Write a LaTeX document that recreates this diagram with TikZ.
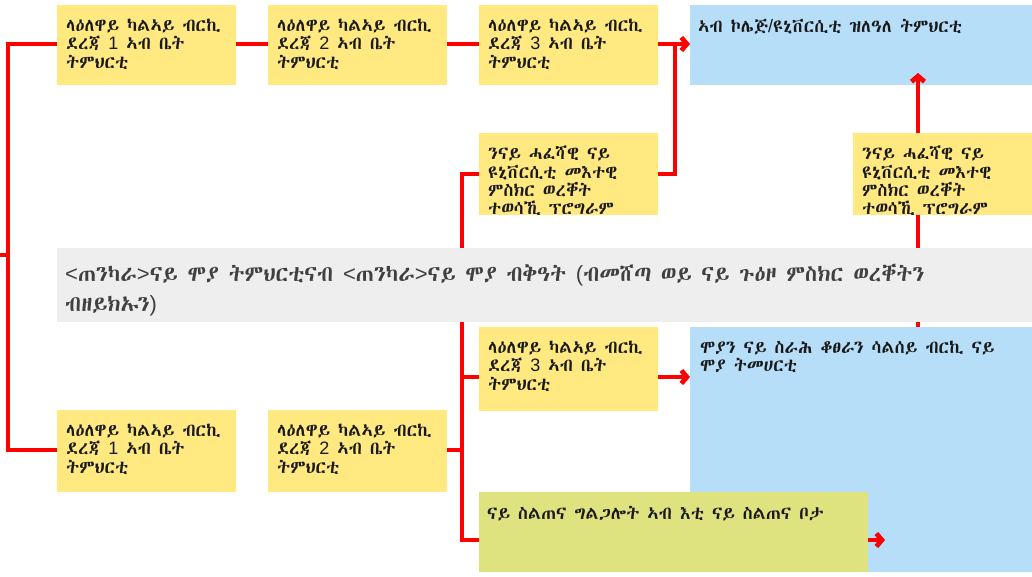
\documentclass[tikz,border=0pt]{standalone}
\usepackage{fontspec}
\usetikzlibrary{arrows.meta}
\setmainfont{Liberation Sans}
\newfontfamily\latf{Liberation Sans}
\IfFontExistsTF{Abyssinica SIL}{\newfontfamily\eth{Abyssinica SIL}}{%
 \IfFontExistsTF{FreeSans}{\newfontfamily\eth{FreeSans}}{%
  \IfFontExistsTF{FreeSerif}{\newfontfamily\eth{FreeSerif}}{%
   \IfFontExistsTF{Unifont}{\newfontfamily\eth{Unifont}}{%
    \newfontfamily\eth{DejaVu Sans}}}}}
\newcommand\ltn[1]{{\latf #1}}
\definecolor{ycol}{RGB}{255,233,128}
\definecolor{bcol}{RGB}{182,222,248}
\definecolor{gcol}{RGB}{238,238,238}
\definecolor{grn}{RGB}{222,227,128}
\definecolor{lred}{RGB}{255,0,0}
\tikzset{
  boxbase/.style={anchor=north west, inner sep=0pt, draw=none},
  ybox/.style={boxbase, fill=ycol},
  bbox/.style={boxbase, fill=bcol},
  gbox/.style={boxbase, fill=gcol},
  grbox/.style={boxbase, fill=grn},
  txt/.style={anchor=north west, inner sep=0pt, align=left, text=black!90,
    font=\eth\fontsize{18}{18.3}\selectfont},
  bigtxt/.style={txt, text=black!75, font=\eth\fontsize{22}{30}\selectfont},
  conn/.style={draw=lred, line width=4.8pt},
  arr/.style={conn, -{Straight Barb[length=5.5pt,width=13pt]}},
}
\begin{document}
\begin{tikzpicture}[x=1pt,y=-1pt]
\useasboundingbox (0,0) rectangle (1032,576);
% blue boxes first
\node[bbox, minimum width=342pt, minimum height=80pt] (tb) at (690,5) {};
\node[bbox, minimum width=342pt, minimum height=245pt] (bb) at (690,327) {};
% reference coordinates
\coordinate (j0) at (8,255);
\coordinate (s0) at (0,255);
\coordinate (j1) at (675,0);
\coordinate (j2) at (462,0);
\coordinate (j4) at (918,0);
\coordinate (a4) at (918,73);
\coordinate (r3) at (0,377);
\coordinate (r5) at (0,540);
\coordinate (e5) at (885,540);
% other boxes (positions needed for connectors)
\path
 (57,5) node[ybox, minimum width=179pt, minimum height=80pt] (t1) {}
 (268,5) node[ybox, minimum width=179pt, minimum height=80pt] (t2) {}
 (479,5) node[ybox, minimum width=179pt, minimum height=80pt] (t3) {}
 (479,133) node[ybox, minimum width=179pt, minimum height=82pt] (m1) {}
 (853,133) node[ybox, minimum width=179pt, minimum height=82pt] (m2) {}
 (57,248) node[gbox, minimum width=975pt, minimum height=74pt] (g) {}
 (479,327) node[ybox, minimum width=179pt, minimum height=84pt] (b3) {}
 (57,410) node[ybox, minimum width=179pt, minimum height=82pt] (b1) {}
 (268,410) node[ybox, minimum width=179pt, minimum height=82pt] (b2) {}
 (479,492) node[grbox, minimum width=389pt, minimum height=80pt] (gr) {};
% connectors
\draw[conn] (t1.west |- 0,44) -| (j0) |- (b1.west |- 0,450);
\draw[conn] (j0) -- (s0);
\draw[conn] (t1.east |- 0,44) -- (t2.west |- 0,44);
\draw[conn] (t2.east |- 0,44) -- (t3.west |- 0,44);
\draw[arr] (t3.east |- 0,44) -- (tb.west |- 0,44);
\draw[conn] (m1.east |- 0,174) -| (j1 |- 0,44);
\draw[conn] (m1.west |- 0,174) -| (g.north -| j2);
\draw[conn] (g.south -| j2) |- (gr.west |- r5);
\draw[conn] (j2 |- r3) -- (b3.west |- r3);
\draw[conn] (b2.east |- 0,450) -- (j2 |- 0,450);
\draw[arr] (b3.east |- r3) -- (bb.west |- r3);
\draw[arr] (gr.east |- r5) -- (e5);
\draw[arr] (bb.north -| j4) -- (a4);
% boxes on top of connectors
\path
 (57,5) node[ybox, minimum width=179pt, minimum height=80pt] {}
 (268,5) node[ybox, minimum width=179pt, minimum height=80pt] {}
 (479,5) node[ybox, minimum width=179pt, minimum height=80pt] {}
 (479,133) node[ybox, minimum width=179pt, minimum height=82pt] {}
 (853,133) node[ybox, minimum width=179pt, minimum height=82pt] {}
 (57,248) node[gbox, minimum width=975pt, minimum height=74pt] {}
 (479,327) node[ybox, minimum width=179pt, minimum height=84pt] {}
 (57,410) node[ybox, minimum width=179pt, minimum height=82pt] {}
 (268,410) node[ybox, minimum width=179pt, minimum height=82pt] {}
 (479,492) node[grbox, minimum width=389pt, minimum height=80pt] {};
% texts
\node[txt] (t1x) at ([shift={(9,14)}]t1.north west) {ላዕለዋይ ካልኣይ ብርኪ\\ደረጃ \ltn{1} ኣብ ቤት\\ትምህርቲ};
\node[txt] (t2x) at ([shift={(9,14)}]t2.north west) {ላዕለዋይ ካልኣይ ብርኪ\\ደረጃ \ltn{2} ኣብ ቤት\\ትምህርቲ};
\node[txt] (t3x) at ([shift={(9,14)}]t3.north west) {ላዕለዋይ ካልኣይ ብርኪ\\ደረጃ \ltn{3} ኣብ ቤት\\ትምህርቲ};
\node[txt] (tbx) at ([shift={(8,14)}]tb.north west) {ኣብ ኮሌጅ\ltn{/}ዩኒቨርሲቲ ዝለዓለ ትምህርቲ};
\begin{scope}
\clip (m1.north west) rectangle (m1.south east);
\node[txt] (m1x) at ([shift={(9,13)}]m1.north west) {ንናይ ሓፈሻዊ ናይ\\ዩኒቨርሲቲ መእተዊ\\ምስክር ወረቐት\\ተወሳኺ ፕሮግራም};
\end{scope}
\begin{scope}
\clip (m2.north west) rectangle (m2.south east);
\node[txt] (m2x) at ([shift={(9,13)}]m2.north west) {ንናይ ሓፈሻዊ ናይ\\ዩኒቨርሲቲ መእተዊ\\ምስክር ወረቐት\\ተወሳኺ ፕሮግራም};
\end{scope}
\node[bigtxt] (gx) at ([shift={(8,16)}]g.north west) {\ltn{<}ጠንካራ\ltn{>}ናይ ሞያ ትምህርቲናብ \ltn{<}ጠንካራ\ltn{>}ናይ ሞያ ብቅዓት \ltn{(}ብመሸጣ ወይ ናይ ጉዕዞ ምስክር ወረቐትን\\ብዘይክኡን\ltn{)}};
\node[txt] (b3x) at ([shift={(9,14)}]b3.north west) {ላዕለዋይ ካልኣይ ብርኪ\\ደረጃ \ltn{3} ኣብ ቤት\\ትምህርቲ};
\node[txt] (bbx) at ([shift={(10,14)}]bb.north west) {ሞያን ናይ ስራሕ ቆፀራን ሳልሰይ ብርኪ ናይ\\ሞያ ትመሀርቲ};
\node[txt] (b1x) at ([shift={(9,14)}]b1.north west) {ላዕለዋይ ካልኣይ ብርኪ\\ደረጃ \ltn{1} ኣብ ቤት\\ትምህርቲ};
\node[txt] (b2x) at ([shift={(9,14)}]b2.north west) {ላዕለዋይ ካልኣይ ብርኪ\\ደረጃ \ltn{2} ኣብ ቤት\\ትምህርቲ};
\node[txt] (grx) at ([shift={(8,14)}]gr.north west) {ናይ ስልጠና ግልጋሎት ኣብ እቲ ናይ ስልጠና ቦታ};
\end{tikzpicture}
\end{document}
